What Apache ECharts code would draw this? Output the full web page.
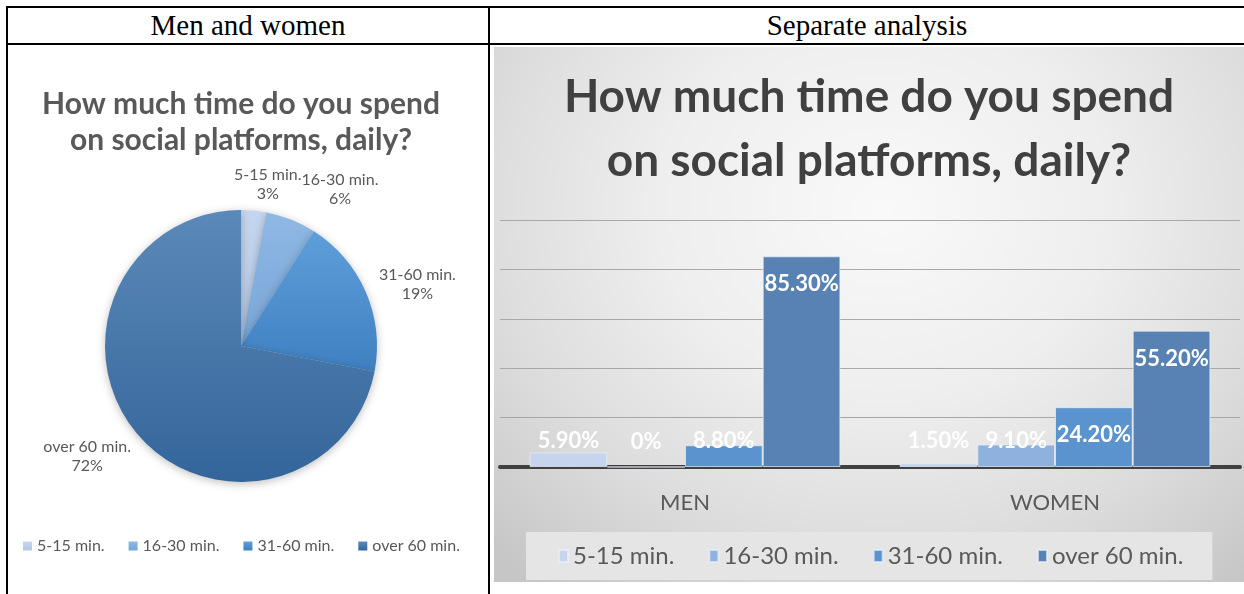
<!DOCTYPE html>
<html>
<head>
<meta charset="utf-8">
<script src="https://cdn.jsdelivr.net/npm/echarts@6/dist/echarts.min.js"></script>
<style>
  html, body { margin: 0; padding: 0; background: #fff; }
  body { width: 1244px; height: 594px; position: relative; overflow: hidden; }
  .line { position: absolute; background: #000; }
  .hdr { position: absolute; top: 8px; height: 35px; line-height: 35px; text-align: center;
         font-family: "Liberation Serif", "DejaVu Serif", serif; font-size: 29px; color: #000; }
  #pie { position: absolute; left: 1px; top: 45px; width: 480px; height: 549px; }
  #bar { position: absolute; left: 494px; top: 47px; width: 750px; height: 535px;
         background: radial-gradient(ellipse 75% 90% at 52% 30%, #f9f9f9 0%, #eeeeee 40%, #dddddd 70%, #c6c6c6 100%); }
</style>
</head>
<body>
<div class="line" style="left:6px; top:6px; width:1238px; height:2px;"></div>
<div class="line" style="left:6px; top:43px; width:1238px; height:2px;"></div>
<div class="line" style="left:6px; top:6px; width:2px; height:588px;"></div>
<div class="line" style="left:488px; top:6px; width:2px; height:588px;"></div>
<div class="hdr" style="left:8px; width:480px;">Men and women</div>
<div class="hdr" style="left:490px; width:754px;">Separate analysis</div>
<div id="pie"></div>
<div id="bar"></div>
<script>
// ---- data ----
const titleText = 'How much time do you spend\non social platforms, daily?';
const timeCategories = ['5-15 min.', '16-30 min.', '31-60 min.', 'over 60 min.'];
const overallShare = [3, 6, 19, 72];
const groups = ['MEN', 'WOMEN'];
const share_5_15 = [5.9, 1.5];
const share_16_30 = [0, 9.1];
const share_31_60 = [8.8, 24.2];
const share_over60 = [85.3, 55.2];

// ---- styles ----
const pieColors = [
  ['#c5d6ee', '#b3c8e6'],
  ['#8fb8e4', '#78a4d6'],
  ['#5e9ed9', '#3f80c2'],
  ['#5b89b9', '#34659a']
];
const barColors = ['#c6d4ee', '#8fb1de', '#5b93cf', '#5882b3'];
const FONT = 'Lato, "Open Sans", sans-serif';

function vgrad(c) {
  return { type: 'linear', x: 0, y: 0, x2: 0, y2: 1,
           colorStops: [{ offset: 0, color: c[0] }, { offset: 1, color: c[1] }] };
}

// ---- pie ----
const pieChart = echarts.init(document.getElementById('pie'));
const PIE_R = 136;
const PIE_C = [240, 301];
const LABEL_GAP = 11;
const LABEL_TURN = 4 * Math.PI / 180;   // Excel-like best-fit nudge (clockwise)
const total = overallShare.reduce((a, b) => a + b, 0);
const midAngles = [];
(function () {
  let acc = 0;
  overallShare.forEach(v => { midAngles.push((acc + v / 2) / total * Math.PI * 2); acc += v; });
})();
const placed = [];

pieChart.setOption({
  animation: false,
  title: {
    text: titleText, left: 'center', top: 36,
    textStyle: { fontFamily: FONT, fontSize: 30, fontWeight: 'bold', color: '#595959', lineHeight: 36 }
  },
  legend: {
    left: 17, top: 488, itemWidth: 9, itemHeight: 9, itemGap: 24,
    icon: 'rect',
    textStyle: { fontFamily: FONT, fontSize: 16, color: '#595959' },
    data: timeCategories
  },
  series: [{
    type: 'pie',
    center: PIE_C,
    radius: PIE_R,
    startAngle: 90,
    clockwise: true,
    data: timeCategories.map((n, i) => ({
      name: n, value: overallShare[i],
      itemStyle: { color: vgrad(pieColors[i]) }
    })),
    itemStyle: { borderWidth: 0, shadowBlur: 8, shadowColor: 'rgba(0,0,0,0.25)', shadowOffsetY: 2 },
    label: {
      show: true, position: 'outside', overflow: 'none',
      formatter: p => p.name + '\n' + p.value + '%',
      fontFamily: FONT, fontSize: 16, color: '#595959', lineHeight: 19, align: 'center'
    },
    labelLine: { show: false },
    labelLayout: function (params) {
      const i = params.dataIndex;
      const a = midAngles[i] + LABEL_TURN;
      const dx = Math.sin(a), dy = -Math.cos(a);
      const w = params.labelRect.width, h = params.labelRect.height;
      const ext = Math.abs(dx) * w / 2 + Math.abs(dy) * h / 2 * 0.6;
      const d = PIE_R + LABEL_GAP + ext;
      let x = PIE_C[0] + d * dx, y = PIE_C[1] + d * dy;
      // push apart from the previous label if they overlap
      const prev = placed[i - 1];
      if (i > 0 && prev) {
        const overlapX = (prev.x + prev.w / 2) - (x - w / 2);
        const overlapY = Math.min(prev.y + prev.h / 2, y + h / 2) - Math.max(prev.y - prev.h / 2, y - h / 2);
        if (overlapX > 0 && overlapY > 0 && dx > 0) x += overlapX;
      }
      placed[i] = { x: x, y: y, w: w, h: h };
      return { x: x, y: y, align: 'center', verticalAlign: 'middle' };
    },
    emphasis: { disabled: true }
  }]
});

// ---- bar ----
const barChart = echarts.init(document.getElementById('bar'));
const barSeriesValues = [share_5_15, share_16_30, share_31_60, share_over60];
function fmt(v) { return v === 0 ? '0%' : v.toFixed(2) + '%'; }

barChart.setOption({
  animation: false,
  title: {
    text: titleText, left: 'center', top: 13,
    textStyle: { fontFamily: FONT, fontSize: 46, fontWeight: 'bold', color: '#404040', lineHeight: 64 }
  },
  legend: {
    left: 32, top: 485, icon: 'rect', itemWidth: 9, itemHeight: 12, itemGap: 34,
    backgroundColor: '#e5e5e5', padding: [12, 29, 12, 32],
    textStyle: { fontFamily: FONT, fontSize: 24, color: '#595959' },
    data: timeCategories
  },
  grid: { left: 6, right: 4, top: 173, bottom: 115 },
  xAxis: {
    type: 'category', data: groups,
    axisLine: { lineStyle: { color: '#404040', width: 4 } },
    axisTick: { show: false },
    axisLabel: { fontFamily: FONT, fontSize: 22, color: '#595959', margin: 25 }
  },
  yAxis: {
    type: 'value', min: 0, max: 100, interval: 20,
    axisLabel: { show: false }, axisLine: { show: false }, axisTick: { show: false },
    splitLine: { lineStyle: { color: '#a8a8a8', width: 1 } }
  },
  series: timeCategories.map((n, i) => ({
    type: 'bar', name: n,
    barGap: '0%', barCategoryGap: '16%',
    itemStyle: { color: barColors[i], borderColor: 'rgba(235,240,248,0.7)', borderWidth: 1 },
    label: {
      show: true, formatter: p => fmt(p.value),
      fontFamily: FONT, fontSize: 22, fontWeight: 'bold', color: '#ffffff'
    },
    emphasis: { disabled: true },
    data: barSeriesValues[i].map(v => ({
      value: v,
      label: v >= 20 ? { position: 'insideTop', distance: 17 } : { position: 'insideBottom', distance: 15 }
    }))
  }))
});
</script>
</body>
</html>
